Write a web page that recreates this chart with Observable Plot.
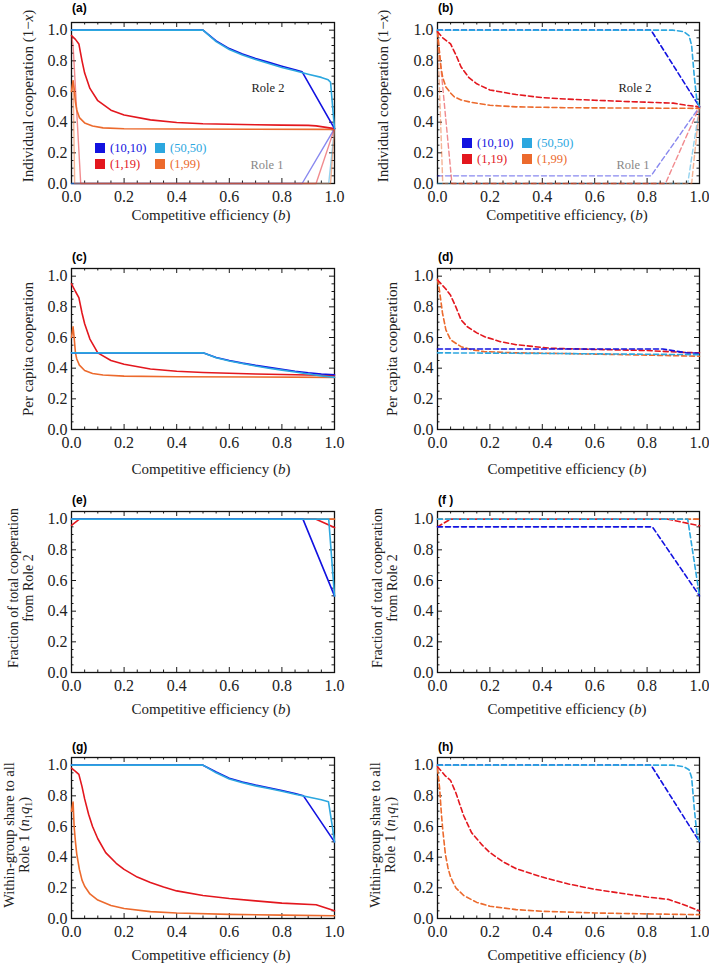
<!DOCTYPE html>
<html><head><meta charset="utf-8">
<script src="https://cdn.jsdelivr.net/npm/d3@7"></script>
<script src="https://cdn.jsdelivr.net/npm/@observablehq/plot@0.6"></script>
<style>
body{margin:0;background:#fff;}
#root{position:relative;width:709px;height:964px;overflow:hidden;font-family:"Liberation Serif",serif;background:#fff;}
.abs{position:absolute;white-space:nowrap;}
.plab{font-family:"Liberation Sans",Arial,sans-serif;font-weight:bold;font-size:12px;transform:translate(0,-50%);}
.xt{font-size:15px;transform:translate(-50%,-50%);color:#222;}
.yt{transform:translate(-50%,-50%) rotate(-90deg);text-align:center;line-height:15px;color:#222;}
.leg{font-size:12.5px;transform:translate(0,-50%);}
.sq{position:absolute;width:10px;height:10px;transform:translate(-50%,-50%);}
.role{font-size:12.5px;transform:translate(-50%,-50%);}
</style></head><body><div id="root"></div><script>
// ---------- series meta ----------
const seriesNames = ["(10,10)", "(50,50)", "(1,19)", "(1,99)"];
const seriesColors = ["#1212e0", "#2ca7df", "#e3171e", "#ec6a2d"];
const majorTicks = [0, 0.2, 0.4, 0.6, 0.8, 1.0];
const minorTicks = [0.05,0.1,0.15,0.25,0.3,0.35,0.45,0.5,0.55,0.65,0.7,0.75,0.85,0.9,0.95];
const minorTicksY = minorTicks.concat([1.05]);

// ---------- panel (a): individual cooperation, solid ----------
const aBlueR2 = [[0,1],[0.5,1],[0.55,0.93],[0.6,0.88],[0.65,0.845],[0.7,0.815],[0.75,0.79],[0.8,0.765],[0.85,0.742],[0.877,0.728],[1,0.358]];
const aCyanR2 = [[0,1],[0.5,1],[0.55,0.925],[0.6,0.874],[0.65,0.838],[0.7,0.808],[0.75,0.782],[0.8,0.757],[0.85,0.735],[0.9,0.713],[0.95,0.692],[0.976,0.676],[0.985,0.66],[1,0.358]];
const aRedR2 = [[0,0.965],[0.015,0.94],[0.028,0.91],[0.04,0.8],[0.05,0.72],[0.07,0.62],[0.1,0.54],[0.15,0.478],[0.2,0.447],[0.3,0.415],[0.4,0.398],[0.5,0.39],[0.6,0.386],[0.7,0.383],[0.8,0.381],[0.9,0.379],[0.93,0.376],[1,0.358]];
const aOrangeR2 = [[0,0.6],[0.006,0.67],[0.01,0.62],[0.015,0.53],[0.02,0.48],[0.03,0.43],[0.05,0.395],[0.08,0.375],[0.12,0.363],[0.2,0.357],[0.4,0.355],[1,0.353]];
const aBlueR1 = [[0,0],[0.877,0],[1,0.358]];
const aCyanR1 = [[0,0],[0.978,0],[1,0.358]];
const aRedR1 = [[0,0.965],[0.006,0.9],[0.035,0],[0.93,0],[1,0.358]];
const aOrangeR1 = [[0,0.6],[0.006,0.67],[0.012,0],[0.985,0],[1,0.358]];

// ---------- panel (b): individual cooperation, dashed ----------
const bBlueR2 = [[0,1],[0.815,1],[1,0.5]];
const bCyanR2 = [[0,1],[0.9,1],[0.94,0.99],[0.96,0.965],[0.97,0.9],[0.98,0.7],[0.99,0.54],[1,0.5]];
const bRedR2 = [[0,0.99],[0.02,0.95],[0.05,0.91],[0.07,0.84],[0.09,0.76],[0.12,0.69],[0.15,0.65],[0.2,0.61],[0.3,0.58],[0.4,0.56],[0.5,0.55],[0.6,0.543],[0.7,0.536],[0.8,0.53],[0.9,0.524],[0.95,0.51],[1,0.5]];
const bOrangeR2 = [[0,0.99],[0.005,0.9],[0.013,0.76],[0.02,0.69],[0.032,0.63],[0.05,0.59],[0.064,0.565],[0.09,0.545],[0.127,0.53],[0.2,0.51],[0.3,0.5],[0.5,0.494],[1,0.49]];
const bBlueR1 = [[0,0.05],[0.815,0.05],[1,0.5]];
const bCyanR1 = [[0,0],[0.955,0],[1,0.5]];
const bRedR1 = [[0,0.99],[0.055,0],[0.87,0],[1,0.5]];
const bOrangeR1 = [[0,0.99],[0.02,0],[0.97,0],[1,0.5]];

// ---------- panel (c): per capita cooperation, solid ----------
const cBlue = [[0,0.5],[0.5,0.5],[0.55,0.47],[0.6,0.45],[0.65,0.433],[0.7,0.418],[0.75,0.405],[0.8,0.392],[0.85,0.38],[0.9,0.37],[0.95,0.362],[1,0.357]];
const cCyan = [[0,0.5],[0.5,0.5],[0.55,0.468],[0.6,0.447],[0.65,0.43],[0.7,0.414],[0.75,0.4],[0.8,0.387],[0.85,0.375],[0.9,0.362],[0.95,0.35],[1,0.34]];
const cRed = [[0,0.95],[0.015,0.9],[0.028,0.86],[0.04,0.76],[0.05,0.69],[0.07,0.59],[0.1,0.5],[0.15,0.45],[0.2,0.425],[0.3,0.395],[0.4,0.38],[0.5,0.372],[0.7,0.362],[0.85,0.357],[1,0.352]];
const cOrange = [[0,0.6],[0.006,0.67],[0.01,0.6],[0.015,0.5],[0.02,0.46],[0.03,0.42],[0.05,0.385],[0.08,0.365],[0.12,0.355],[0.2,0.348],[0.4,0.344],[1,0.34]];

// ---------- panel (d): per capita cooperation, dashed ----------
const dBlue = [[0,0.525],[0.86,0.525],[0.95,0.5],[1,0.497]];
const dCyan = [[0,0.5],[0.5,0.495],[1,0.488]];
const dRed = [[0,0.975],[0.03,0.92],[0.05,0.875],[0.07,0.8],[0.09,0.715],[0.114,0.67],[0.15,0.63],[0.18,0.605],[0.24,0.573],[0.3,0.553],[0.43,0.53],[0.6,0.522],[0.8,0.515],[0.94,0.503],[1,0.5]];
const dOrange = [[0,0.98],[0.008,0.9],[0.019,0.76],[0.032,0.65],[0.05,0.585],[0.09,0.54],[0.13,0.52],[0.178,0.508],[0.3,0.5],[0.5,0.495],[0.8,0.485],[1,0.478]];

// ---------- panel (e): fraction from Role 2, solid ----------
const eBlue = [[0,1],[0.88,1],[1,0.5]];
const eCyan = [[0,1],[0.978,1],[1,0.5]];
const eRed = [[0,0.96],[0.03,1],[0.93,1],[1,0.945]];
const eOrange = [[0,1],[1,1]];

// ---------- panel (f): fraction from Role 2, dashed ----------
const fBlue = [[0,0.95],[0.82,0.95],[1,0.5]];
const fCyan = [[0,1],[0.955,1],[1,0.5]];
const fRed = [[0,0.95],[0.05,1],[0.88,1],[0.94,0.978],[1,0.957]];
const fOrange = [[0,1],[1,1]];

// ---------- panel (g): within-group share to Role 1, solid ----------
const gBlue = [[0,1],[0.5,1],[0.55,0.955],[0.6,0.915],[0.65,0.89],[0.7,0.87],[0.75,0.853],[0.8,0.835],[0.85,0.815],[0.882,0.8],[1,0.5]];
const gCyan = [[0,1],[0.5,1],[0.55,0.95],[0.6,0.91],[0.65,0.885],[0.7,0.865],[0.75,0.848],[0.8,0.83],[0.85,0.81],[0.9,0.792],[0.95,0.774],[0.977,0.762],[0.99,0.62],[1,0.5]];
const gRed = [[0,0.98],[0.015,0.96],[0.028,0.94],[0.04,0.86],[0.05,0.78],[0.065,0.68],[0.08,0.6],[0.1,0.52],[0.13,0.43],[0.17,0.36],[0.2,0.32],[0.25,0.27],[0.3,0.235],[0.35,0.205],[0.4,0.18],[0.5,0.15],[0.6,0.13],[0.7,0.115],[0.8,0.1],[0.93,0.09],[1,0.05]];
const gOrange = [[0,0.7],[0.006,0.76],[0.01,0.6],[0.015,0.5],[0.02,0.42],[0.03,0.32],[0.04,0.25],[0.05,0.21],[0.07,0.16],[0.1,0.12],[0.15,0.085],[0.2,0.065],[0.3,0.045],[0.4,0.036],[0.6,0.027],[0.8,0.022],[1,0.018]];

// ---------- panel (h): within-group share to Role 1, dashed ----------
const hBlue = [[0,1],[0.815,1],[1,0.5]];
const hCyan = [[0,1],[0.9,1],[0.94,0.99],[0.96,0.97],[0.97,0.92],[0.98,0.72],[0.99,0.55],[1,0.5]];
const hRed = [[0,0.99],[0.03,0.93],[0.05,0.9],[0.07,0.82],[0.1,0.67],[0.13,0.56],[0.17,0.48],[0.2,0.43],[0.25,0.37],[0.3,0.325],[0.4,0.27],[0.5,0.225],[0.6,0.19],[0.7,0.165],[0.8,0.14],[0.88,0.125],[0.94,0.09],[1,0.05]];
const hOrange = [[0,0.98],[0.008,0.85],[0.015,0.68],[0.02,0.58],[0.03,0.42],[0.04,0.33],[0.05,0.27],[0.07,0.2],[0.1,0.15],[0.15,0.105],[0.2,0.08],[0.3,0.058],[0.4,0.047],[0.6,0.036],[0.8,0.03],[1,0.025]];

// ---------- text ----------
const panelLabels = ["(a)","(b)","(c)","(d)","(e)","(f )","(g)","(h)"];
const xTitles = ["Competitive efficiency (<i>b</i>)","Competitive efficiency, (<i>b</i>)","Competitive efficiency (<i>b</i>)","Competitive efficiency (<i>b</i>)","Competitive efficiency (<i>b</i>)","Competitive efficiency (<i>b</i>)","Competitive efficiency (<i>b</i>)","Competitive efficiency (<i>b</i>)"];
const yTitleA = ["Individual cooperation (1\u2212<i>x</i>)"];
const yTitleC = ["Per capita cooperation"];
const yTitleE = ["Fraction of total cooperation","from Role 2"];
const yTitleG = ["Within-group share to all","Role 1 (<i>n</i><sub style='font-size:70%'>1</sub><i>q</i><sub style='font-size:70%'>1</sub>)"];
const roleLabels = ["Role 2","Role 1"];

// ---------- layout ----------
const colFrameLeft = [71, 437];
const colFrameW = [263, 262];
const rowFrameTop = [22, 268, 511, 757];
const frameH = 161;
const rowTickPad = [7, 7, 7, 7];
const rowXTitleY = [215, 469, 709, 955];
const xTitleCX = [211, 567];
const rowYTitleCY = [96, 349, 588, 835];
const rowYTitleSize = [15, 15, 14, 14.5];
const yTitleCX = [[28, 383], [28, 392], [21, 385], [19, 385]];
const panelLabelY = [8, 257, 500, 747];
const panelLabelX = [72, 438];

const root = document.getElementById("root");
function addDiv(cls, html, x, y, style) {
  const d = document.createElement("div");
  d.className = "abs " + cls;
  d.innerHTML = html;
  d.style.left = x + "px"; d.style.top = y + "px";
  if (style) Object.assign(d.style, style);
  root.appendChild(d);
  return d;
}

const panels = [
  {lines2:[aBlueR2,aCyanR2,aRedR2,aOrangeR2], lines1:[aBlueR1,aCyanR1,aRedR1,aOrangeR1], dashed:false, yt:yTitleA},
  {lines2:[bBlueR2,bCyanR2,bRedR2,bOrangeR2], lines1:[bBlueR1,bCyanR1,bRedR1,bOrangeR1], dashed:true, yt:yTitleA},
  {lines2:[cBlue,cCyan,cRed,cOrange], lines1:[], dashed:false, yt:yTitleC},
  {lines2:[dBlue,dCyan,dRed,dOrange], lines1:[], dashed:true, yt:yTitleC},
  {lines2:[eBlue,eCyan,eRed,eOrange], lines1:[], dashed:false, yt:yTitleE},
  {lines2:[fBlue,fCyan,fRed,fOrange], lines1:[], dashed:true, yt:yTitleE},
  {lines2:[gBlue,gCyan,gRed,gOrange], lines1:[], dashed:false, yt:yTitleG},
  {lines2:[hBlue,hCyan,hRed,hOrange], lines1:[], dashed:true, yt:yTitleG}
];
// draw order of Role 2 curves
const drawOrder = [3, 2, 0, 1];

panels.forEach((p, idx) => {
  const col = idx % 2, row = Math.floor(idx / 2);
  const fl = colFrameLeft[col], fw = colFrameW[col], ft = rowFrameTop[row];
  const mL = 50, mR = 14, mT = 8, mB = 30;
  const unit = frameH / 1.05;
  const yMaj = 5 / unit, yMin = 2.5 / unit, xMaj = 5 / fw, xMin = 2.5 / fw;
  const dash = p.dashed ? "5,3" : null;
  const tk = {stroke: "#000", strokeWidth: 0.9};
  const marks = [
    Plot.ruleX(majorTicks, {x: d => d, y1: 0, y2: yMaj, ...tk}),
    Plot.ruleX(majorTicks, {x: d => d, y1: 1.05, y2: 1.05 - yMaj, ...tk}),
    Plot.ruleX(minorTicks, {x: d => d, y1: 0, y2: yMin, ...tk}),
    Plot.ruleX(minorTicks, {x: d => d, y1: 1.05, y2: 1.05 - yMin, ...tk}),
    Plot.ruleY(majorTicks, {y: d => d, x1: 0, x2: xMaj, ...tk}),
    Plot.ruleY(majorTicks, {y: d => d, x1: 1, x2: 1 - xMaj, ...tk}),
    Plot.ruleY(minorTicksY, {y: d => d, x1: 0, x2: xMin, ...tk}),
    Plot.ruleY(minorTicksY, {y: d => d, x1: 1, x2: 1 - xMin, ...tk}),
    Plot.frame({stroke: "#111", strokeWidth: 1.3})
  ];
  p.lines1.forEach((pts, i) => {
    marks.push(Plot.line(pts, {x: d => d[0], y: d => d[1], stroke: seriesColors[i], strokeOpacity: 0.5, strokeWidth: 1.4, strokeDasharray: dash}));
  });
  drawOrder.forEach(i => {
    marks.push(Plot.line(p.lines2[i], {x: d => d[0], y: d => d[1], stroke: seriesColors[i], strokeWidth: 1.6, strokeDasharray: dash}));
  });
  marks.push(Plot.axisX(majorTicks, {anchor: "bottom", tickSize: 0, tickPadding: rowTickPad[row], tickFormat: d => d.toFixed(1), fontSize: 16, fill: "#222"}));
  marks.push(Plot.axisY(majorTicks, {anchor: "left", tickSize: 0, tickPadding: 4, tickFormat: d => d.toFixed(1), fontSize: 16, fill: "#222"}));
  const svg = Plot.plot({
    width: mL + fw + mR, height: mT + frameH + mB,
    marginLeft: mL, marginRight: mR, marginTop: mT, marginBottom: mB,
    x: {domain: [0, 1]}, y: {domain: [0, 1.05]},
    style: {fontFamily: "'Liberation Serif', serif", background: "transparent", overflow: "visible"},
    marks
  });
  svg.style.position = "absolute";
  svg.style.left = (fl - mL) + "px";
  svg.style.top = (ft - mT) + "px";
  root.appendChild(svg);

  addDiv("plab", panelLabels[idx], panelLabelX[col], panelLabelY[row]);
  addDiv("xt", xTitles[idx], xTitleCX[col], rowXTitleY[row]);
  addDiv("yt", p.yt.join("<br>"), yTitleCX[row][col], rowYTitleCY[row], {fontSize: rowYTitleSize[row] + "px"});
});

// legends + role labels for (a) and (b)
const legendSquareX = [[100, 160], [467, 527]];
const legendRowY = [[148, 164], [143, 159]];
const legendSlots = [[0, 0, 0], [1, 0, 1], [2, 1, 0], [3, 1, 1]]; // series, row, col
[0, 1].forEach(col => {
  legendSlots.forEach(([s, r, c]) => {
    const x = legendSquareX[col][c], y = legendRowY[col][r];
    const sq = addDiv("sq", "", x, y);
    sq.style.background = seriesColors[s];
    addDiv("leg", seriesNames[s], x + 10, y, {color: seriesColors[s]});
  });
});
const roleX = [[268, 267], [635, 633]];
const roleY = [88, 165];
[0, 1].forEach(col => {
  addDiv("role", roleLabels[0], roleX[col][0], roleY[0], {color: "#222"});
  addDiv("role", roleLabels[1], roleX[col][1], roleY[1], {color: "#888"});
});
</script></body></html>
